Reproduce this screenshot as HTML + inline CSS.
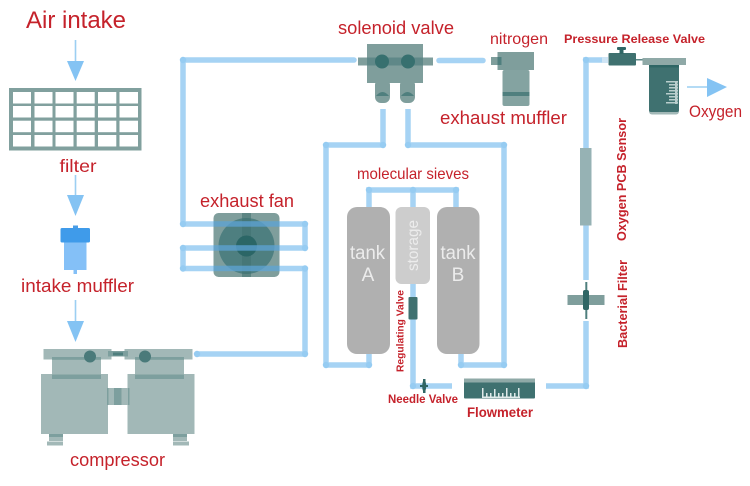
<!DOCTYPE html>
<html>
<head>
<meta charset="utf-8">
<style>
html,body{margin:0;padding:0;background:#fff;width:750px;height:486px;overflow:hidden}
svg{display:block;filter:blur(.35px)}
text{font-family:"Liberation Sans",sans-serif;fill:#c5222b}
.b{font-weight:bold}
.t{fill:#ececec}
</style>
</head>
<body>
<svg width="750" height="486" viewBox="0 0 750 486" xmlns="http://www.w3.org/2000/svg">
<rect width="750" height="486" fill="#fff"/>

<!-- arrows -->
<g stroke="#9ccff2" stroke-width="1.6" fill="#84c3f3">
<line x1="75.5" y1="40" x2="75.5" y2="62"/>
<line x1="75.5" y1="175" x2="75.5" y2="196"/>
<line x1="75.5" y1="300" x2="75.5" y2="322"/>
<line x1="687" y1="87" x2="708" y2="87"/>
</g>
<g fill="#84c3f3">
<polygon points="67,61 84,61 75.5,81"/>
<polygon points="67,195 84,195 75.5,216"/>
<polygon points="67,321 84,321 75.5,342"/>
<polygon points="707,78 727,87 707,97"/>
</g>

<!-- filter -->
<rect x="9" y="88" width="132.5" height="62.5" fill="#81a09e"/>
<g fill="#fff">
<rect x="13" y="92" width="18" height="11.5"/><rect x="34.5" y="92" width="18" height="11.5"/><rect x="55.5" y="92" width="18" height="11.5"/><rect x="76.7" y="92" width="18" height="11.5"/><rect x="98" y="92" width="18.3" height="11.5"/><rect x="119.5" y="92" width="18.5" height="11.5"/>
<rect x="13" y="106" width="18" height="11.5"/><rect x="34.5" y="106" width="18" height="11.5"/><rect x="55.5" y="106" width="18" height="11.5"/><rect x="76.7" y="106" width="18" height="11.5"/><rect x="98" y="106" width="18.3" height="11.5"/><rect x="119.5" y="106" width="18.5" height="11.5"/>
<rect x="13" y="120.7" width="18" height="11.5"/><rect x="34.5" y="120.7" width="18" height="11.5"/><rect x="55.5" y="120.7" width="18" height="11.5"/><rect x="76.7" y="120.7" width="18" height="11.5"/><rect x="98" y="120.7" width="18.3" height="11.5"/><rect x="119.5" y="120.7" width="18.5" height="11.5"/>
<rect x="13" y="135" width="18" height="11.5"/><rect x="34.5" y="135" width="18" height="11.5"/><rect x="55.5" y="135" width="18" height="11.5"/><rect x="76.7" y="135" width="18" height="11.5"/><rect x="98" y="135" width="18.3" height="11.5"/><rect x="119.5" y="135" width="18.5" height="11.5"/>
</g>

<!-- intake muffler -->
<rect x="73" y="225.5" width="5" height="4" fill="#4a9de6"/>
<rect x="64" y="242" width="22.5" height="28" fill="#84c0f7"/>
<rect x="73.5" y="270" width="3.5" height="4" fill="#84c0f7"/>
<rect x="60.5" y="228" width="29.5" height="14.5" rx="1.5" fill="#3f9bea"/>

<!-- compressor -->
<g fill="#a2b8b7">
<rect x="41" y="374" width="67" height="60"/>
<rect x="127.5" y="374" width="67" height="60"/>
<rect x="52" y="358" width="49" height="18"/>
<rect x="135" y="358" width="49" height="18"/>
<rect x="43.5" y="349" width="68" height="10.5"/>
<rect x="124.5" y="349" width="68" height="10.5"/>
<rect x="106" y="388" width="24" height="17"/>
<rect x="49" y="437" width="14" height="4"/>
<rect x="47" y="441.5" width="16" height="4"/>
<rect x="173" y="437" width="14" height="4"/>
<rect x="173" y="441.5" width="16" height="4"/>
</g>
<g fill="#7d9f9e">
<rect x="52" y="357" width="49" height="2.8"/>
<rect x="135" y="357" width="49" height="2.8"/>
<rect x="52" y="374.5" width="49" height="4.5"/>
<rect x="135" y="374.5" width="49" height="4.5"/>
<rect x="114" y="388" width="7.5" height="17"/>
<rect x="107" y="388" width="1.5" height="17"/>
<rect x="128" y="388" width="1.5" height="17"/>
<rect x="108" y="351" width="20" height="5.5"/>
<rect x="49" y="434" width="14" height="3"/>
<rect x="173" y="434" width="14" height="3"/>
</g>
<circle cx="90" cy="356.5" r="6" fill="#4a7a7a"/>
<circle cx="145" cy="356.5" r="6" fill="#4a7a7a"/>
<rect x="113" y="352.5" width="10" height="3" fill="#4f7f7e"/>

<!-- pipes -->
<g fill="none" stroke="#a6d3f4" stroke-width="5.5">
<path d="M183 60H354" stroke-linecap="round"/>
<path d="M183 60V224"/>
<path d="M183 224H305V248H183V268.5H305V354H197" stroke-linejoin="round"/>
<path d="M439 60.5H483" stroke-linecap="round"/>
<path d="M383 109V145H326V365H369V353" stroke-linejoin="round"/>
<path d="M408 109V145H504V365H461V353" stroke-linejoin="round"/>
<path d="M369 207V190H456V207M413 190V207"/>
<path d="M413 284V386H452"/>
<path d="M546 386H586V321"/>
<path d="M586 280V60H604"/>
</g>
<g fill="#96ccf2">
<circle cx="183" cy="60" r="3.2"/><circle cx="183" cy="224" r="3.2"/><circle cx="183" cy="248" r="3.2"/><circle cx="183" cy="268.5" r="3.2"/>
<circle cx="305" cy="224" r="3.2"/><circle cx="305" cy="248" r="3.2"/><circle cx="305" cy="268.5" r="3.2"/><circle cx="305" cy="354" r="3.2"/><circle cx="197" cy="354" r="3.2"/>
<circle cx="383" cy="145" r="3.2"/><circle cx="408" cy="145" r="3.2"/><circle cx="326" cy="145" r="3.2"/><circle cx="504" cy="145" r="3.2"/>
<circle cx="326" cy="365" r="3.2"/><circle cx="369" cy="365" r="3.2"/><circle cx="461" cy="365" r="3.2"/><circle cx="504" cy="365" r="3.2"/>
<circle cx="369" cy="190" r="3.2"/><circle cx="413" cy="190" r="3.2"/><circle cx="456" cy="190" r="3.2"/>
<circle cx="413" cy="386" r="3.2"/><circle cx="586" cy="386" r="3.2"/><circle cx="586" cy="60" r="3.2"/>
</g>

<!-- fan -->
<rect x="213.5" y="213" width="66" height="64" rx="5" fill="#7f9e9c"/>
<circle cx="246.500" cy="246" r="28" fill="#4e7f80"/>
<rect x="242" y="213" width="9" height="64" fill="#3f7170" opacity=".55"/>
<circle cx="246.500" cy="246" r="10.500" fill="#2b6666"/>
<g fill="#5da4d6" opacity=".75">
<rect x="213.500" y="221.200" width="66" height="5.500"/>
<rect x="213.500" y="245.200" width="66" height="5.500"/>
<rect x="213.500" y="265.700" width="66" height="5.500"/>
</g>

<!-- solenoid -->
<rect x="375" y="79" width="15" height="24" rx="6" fill="#7f9e9c"/>
<rect x="400" y="79" width="15" height="24" rx="6" fill="#7f9e9c"/>
<rect x="375" y="79" width="15" height="4" fill="#4f7f7e"/>
<rect x="400" y="79" width="15" height="4" fill="#4f7f7e"/>
<path d="M376 96Q382.500 88 389 96Z" fill="#4f7f7e"/>
<path d="M401 96Q407.500 88 414 96Z" fill="#4f7f7e"/>
<rect x="367" y="44" width="56" height="39" fill="#7f9e9c"/>
<rect x="358" y="57.500" width="75" height="8" fill="#5f8888"/>
<rect x="423" y="57.500" width="10" height="8" fill="#7f9e9c"/>
<rect x="358" y="57.500" width="9" height="8" fill="#7f9e9c"/>
<circle cx="382" cy="61.500" r="7" fill="#37706f"/>
<circle cx="408" cy="61.500" r="7" fill="#37706f"/>

<!-- exhaust muffler -->
<rect x="491" y="57" width="10" height="8" fill="#7f9e9c"/>
<rect x="502.500" y="70" width="27" height="36" rx="2" fill="#84a3a1"/>
<rect x="502.500" y="92" width="27" height="4" fill="#4f7f7e"/>
<rect x="497.500" y="52" width="36.500" height="18" fill="#7f9e9c"/>
<rect x="497.500" y="57" width="4" height="8" fill="#4f7f7e"/>

<!-- tanks -->
<rect x="347" y="207" width="43" height="147" rx="10" fill="#b0b0b0"/>
<rect x="437" y="207" width="42.500" height="147" rx="10" fill="#b0b0b0"/>
<rect x="395.500" y="207" width="34.500" height="77" rx="6" fill="#cdcdcd"/>
<rect x="408.500" y="297" width="9" height="22.500" rx="1" fill="#3f7170"/>

<!-- needle valve -->
<rect x="423" y="379" width="2.500" height="14" fill="#2f6665"/>
<ellipse cx="424.200" cy="386" rx="2" ry="6" fill="#2f6665"/>
<rect x="420" y="385" width="8" height="2" fill="#2f6665"/>

<!-- flowmeter -->
<rect x="464" y="378.500" width="71" height="20" rx="1" fill="#3f7170"/>
<rect x="464" y="378.500" width="71" height="4" fill="#8fa9a7"/>
<g fill="#dfeaea">
<rect x="482" y="388" width="1.500" height="10"/><rect x="486" y="393" width="1.500" height="5"/><rect x="490" y="393" width="1.500" height="5"/><rect x="494" y="389" width="1.500" height="9"/><rect x="498" y="393" width="1.500" height="5"/><rect x="502" y="393" width="1.500" height="5"/><rect x="506" y="388" width="1.500" height="10"/><rect x="510" y="393" width="1.500" height="5"/><rect x="514" y="393" width="1.500" height="5"/><rect x="518" y="388" width="1.500" height="10"/>
<rect x="482" y="396.500" width="38" height="1.500"/>
</g>

<!-- oxygen sensor and bacterial filter -->
<rect x="580" y="148" width="11.500" height="77.500" fill="#96b2b4"/>
<rect x="567.500" y="295" width="37" height="10" fill="#7f9e9c"/>
<rect x="585.300" y="282" width="2" height="37" fill="#4f7f7e"/>
<rect x="583" y="290" width="6" height="20" rx="2" fill="#2f6665"/>

<!-- pressure valve and bottle -->
<rect x="602" y="57" width="6" height="6" fill="#cfe5f5"/>
<rect x="608.500" y="53" width="27.500" height="12.500" rx="1" fill="#3f7170"/>
<rect x="619.500" y="49" width="4" height="5" fill="#2f6665"/>
<rect x="617" y="47" width="9" height="3" rx="1" fill="#2f6665"/>
<rect x="636" y="59" width="7" height="1.500" fill="#5f8888"/>
<rect x="649" y="60" width="30" height="54.500" rx="3" fill="#a2b8b7"/>
<rect x="649" y="60" width="30" height="52" rx="2" fill="#3f7170"/>
<rect x="642.500" y="58" width="43.500" height="7" fill="#8fa9a7"/>
<rect x="649" y="65" width="30" height="2.500" fill="#2f6665"/>
<g fill="#b9cecd">
<rect x="666" y="81" width="12" height="1.500"/><rect x="669" y="84" width="9" height="1.500"/><rect x="669" y="87" width="9" height="1.500"/><rect x="669" y="90" width="9" height="1.500"/><rect x="666" y="93" width="12" height="1.500"/><rect x="669" y="96" width="9" height="1.500"/><rect x="669" y="99" width="9" height="1.500"/><rect x="666" y="102" width="12" height="1.500"/>
<rect x="675" y="81" width="2.500" height="23"/>
</g>

<!-- labels -->
<text x="26" y="28" font-size="24" textLength="100" lengthAdjust="spacingAndGlyphs">Air intake</text>
<text x="59.500" y="172" font-size="17.500" textLength="37" lengthAdjust="spacingAndGlyphs">filter</text>
<text x="21" y="292" font-size="18.500" textLength="113" lengthAdjust="spacingAndGlyphs">intake muffler</text>
<text x="70" y="466" font-size="18.500" textLength="95" lengthAdjust="spacingAndGlyphs">compressor</text>
<text x="200" y="207" font-size="18.500" textLength="94" lengthAdjust="spacingAndGlyphs">exhaust fan</text>
<text x="338" y="34" font-size="18.500" textLength="116" lengthAdjust="spacingAndGlyphs">solenoid valve</text>
<text x="490" y="44" font-size="16" textLength="58" lengthAdjust="spacingAndGlyphs">nitrogen</text>
<text x="440" y="124" font-size="18.500" textLength="127" lengthAdjust="spacingAndGlyphs">exhaust muffler</text>
<text x="357" y="179" font-size="16" textLength="112" lengthAdjust="spacingAndGlyphs">molecular sieves</text>
<text x="564" y="43" font-size="12" class="b" textLength="141" lengthAdjust="spacingAndGlyphs">Pressure Release Valve</text>
<text x="689" y="117" font-size="16.500" textLength="53" lengthAdjust="spacingAndGlyphs">Oxygen</text>
<text x="467" y="417" font-size="13.500" class="b" textLength="66" lengthAdjust="spacingAndGlyphs">Flowmeter</text>
<text x="388" y="403" font-size="11.500" class="b" textLength="70" lengthAdjust="spacingAndGlyphs">Needle Valve</text>
<text transform="translate(403.500,372) rotate(-90)" font-size="10.500" class="b" textLength="82" lengthAdjust="spacingAndGlyphs">Regulating Valve</text>
<text transform="translate(626,241) rotate(-90)" font-size="12.500" class="b" textLength="123" lengthAdjust="spacingAndGlyphs">Oxygen PCB Sensor</text>
<text transform="translate(627,348) rotate(-90)" font-size="12.500" class="b" textLength="88" lengthAdjust="spacingAndGlyphs">Bacterial Filter</text>
<text x="350" y="259" font-size="19" class="t" textLength="35" lengthAdjust="spacingAndGlyphs">tank</text>
<text x="368" y="281" font-size="19" class="t" text-anchor="middle">A</text>
<text x="440.500" y="259" font-size="19" class="t" textLength="35" lengthAdjust="spacingAndGlyphs">tank</text>
<text x="458" y="281" font-size="19" class="t" text-anchor="middle">B</text>
<text transform="translate(418,271) rotate(-90)" font-size="16" class="t" textLength="51" lengthAdjust="spacingAndGlyphs">storage</text>
</svg>
</body>
</html>
